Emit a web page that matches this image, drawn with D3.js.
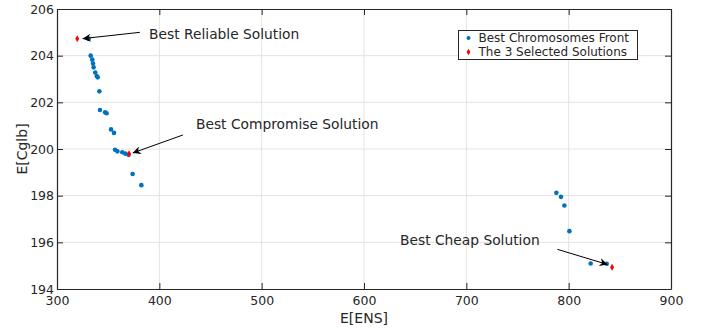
<!DOCTYPE html>
<html>
<head>
<meta charset="utf-8">
<script src="https://cdn.jsdelivr.net/npm/d3@7"></script>
<style>
  body { margin: 0; background: #fff; }
  text { font-family: "DejaVu Sans", sans-serif; fill: #262626; }
</style>
</head>
<body>
<script>
// front points (E[ENS], E[Cglb])
const frontX = [331, 332.9, 334.5, 335.2, 335.8, 337.4, 338.8, 339.8, 341.4, 342, 347, 348.5,
  352.8, 355.7, 356.7, 359, 363.8, 366.8, 370, 373.9, 382.4,
  788, 792.5, 795.8, 800.7, 821.5, 837.2];
const frontY = [204.73, 204.0, 203.83, 203.66, 203.5, 203.28, 203.13, 203.07, 202.47, 201.67, 201.57, 201.53,
  200.84, 200.69, 199.97, 199.9, 199.86, 199.8, 199.75, 198.93, 198.45,
  198.12, 197.95, 197.58, 196.48, 195.09, 195.08];
const selX = [319.8, 370.4, 842.4];
const selY = [204.73, 199.8, 194.93];
const selLabels = ["Best Reliable Solution", "Best Compromise Solution", "Best Cheap Solution"];
const xTicks = [300, 400, 500, 600, 700, 800, 900];
const yTicks = [194, 196, 198, 200, 202, 204, 206];
const legendLabels = ["Best Chromosomes Front", "The 3 Selected Solutions"];

const W = 715, H = 329;
const margin = { top: 9, right: 44, bottom: 40, left: 57 };
const blue = "#0072BD", red = "#ff0000";

const svg = d3.select("body").append("svg")
    .attr("width", W)
    .attr("height", H);

const x = d3.scaleLinear().domain([300, 900]).range([margin.left, W - margin.right]);
const y = d3.scaleLinear().domain([194, 206]).range([H - margin.bottom, margin.top]);

// grid
svg.append("g").selectAll("line")
    .data(xTicks.slice(1, -1))
    .join("line")
    .attr("x1", d => x(d)).attr("x2", d => x(d))
    .attr("y1", y(194)).attr("y2", y(206))
    .attr("stroke", "#e3e3e3").attr("stroke-width", 1);
svg.append("g").selectAll("line")
    .data(yTicks.slice(1, -1))
    .join("line")
    .attr("x1", x(300)).attr("x2", x(900))
    .attr("y1", d => y(d)).attr("y2", d => y(d))
    .attr("stroke", "#e3e3e3").attr("stroke-width", 1);

// axes, ticks inside
const axStyle = g => {
    g.select(".domain").attr("stroke", "#262626").attr("stroke-width", 1.2);
    g.selectAll(".tick line").attr("stroke", "#262626");
    g.selectAll("text").style("font-size", "12.5px").attr("fill", "#262626");
};
svg.append("g")
    .attr("transform", `translate(0,${y(194)})`)
    .call(d3.axisBottom(x).tickValues(xTicks).tickSizeInner(-6).tickSizeOuter(0).tickPadding(7))
    .call(axStyle);
svg.append("g")
    .attr("transform", `translate(0,${y(206)})`)
    .call(d3.axisTop(x).tickValues(xTicks).tickSizeInner(-6).tickSizeOuter(0).tickFormat(""))
    .call(axStyle);
svg.append("g")
    .attr("transform", `translate(${x(300)},0)`)
    .call(d3.axisLeft(y).tickValues(yTicks).tickSizeInner(-6).tickSizeOuter(0).tickPadding(3))
    .call(axStyle);
svg.append("g")
    .attr("transform", `translate(${x(900)},0)`)
    .call(d3.axisRight(y).tickValues(yTicks).tickSizeInner(-6).tickSizeOuter(0).tickFormat(""))
    .call(axStyle);

// axis labels
svg.append("text")
    .attr("x", (x(300) + x(900)) / 2).attr("y", 323)
    .attr("text-anchor", "middle")
    .style("font-size", "14px")
    .text("E[ENS]");
svg.append("text")
    .attr("transform", `translate(27,${(y(194) + y(206)) / 2}) rotate(-90)`)
    .attr("text-anchor", "middle")
    .style("font-size", "14px")
    .text("E[Cglb]");

// points
svg.append("g").selectAll("circle")
    .data(frontX.map((d, i) => [d, frontY[i]]))
    .join("circle")
    .attr("cx", d => x(d[0])).attr("cy", d => y(d[1]))
    .attr("r", 2.3)
    .attr("fill", blue);

const diamond = d3.symbol().type(d3.symbolDiamond).size(14);
svg.append("g").selectAll("path")
    .data(selX.map((d, i) => [d, selY[i]]))
    .join("path")
    .attr("transform", d => `translate(${x(d[0])},${y(d[1])})`)
    .attr("d", diamond)
    .attr("fill", red);

// annotations
svg.append("defs").append("marker")
    .attr("id", "arr")
    .attr("viewBox", "0 0 10 10")
    .attr("refX", 10).attr("refY", 5)
    .attr("markerWidth", 10).attr("markerHeight", 8)
    .attr("markerUnits", "userSpaceOnUse")
    .attr("orient", "auto")
    .append("path")
    .attr("d", "M0,0 L10,5 L0,10 L3,5 Z")
    .attr("fill", "#000");

// text anchor positions and arrow start points in data units
const noteTextX = [390, 435.8, 635.2];
const noteTextY = [204.9, 201.05, 196.08];
const arrowFromX = [381, 423, 789];
const arrowFromY = [205.0, 200.6, 195.7];
const arrowToX = [325, 374, 838];
const arrowToY = [204.73, 199.83, 195.05];

const notes = svg.append("g");
selLabels.forEach((t, i) => {
    notes.append("line")
        .attr("x1", x(arrowFromX[i])).attr("y1", y(arrowFromY[i]))
        .attr("x2", x(arrowToX[i])).attr("y2", y(arrowToY[i]))
        .attr("stroke", "#000").attr("stroke-width", 1)
        .attr("marker-end", "url(#arr)");
    notes.append("text")
        .attr("x", x(noteTextX[i])).attr("y", y(noteTextY[i]))
        .attr("dy", "0.35em")
        .style("font-size", "13.8px")
        .attr("fill", "#000")
        .text(t);
});

// legend
const lg = svg.append("g").attr("transform", "translate(458.5,30.5)");
lg.append("rect")
    .attr("width", 179).attr("height", 29)
    .attr("fill", "#fff").attr("stroke", "#262626").attr("stroke-width", 1);
lg.append("circle").attr("cx", 10).attr("cy", 7.5).attr("r", 2).attr("fill", blue);
lg.append("path").attr("transform", "translate(10,21.5)")
    .attr("d", d3.symbol().type(d3.symbolDiamond).size(12)).attr("fill", red);
lg.selectAll("text.lab")
    .data(legendLabels)
    .join("text")
    .attr("class", "lab")
    .attr("x", 20).attr("y", (d, i) => 7.5 + i * 14)
    .attr("dy", "0.35em")
    .style("font-size", "12px")
    .attr("fill", "#000")
    .text(d => d);
</script>
</body>
</html>
